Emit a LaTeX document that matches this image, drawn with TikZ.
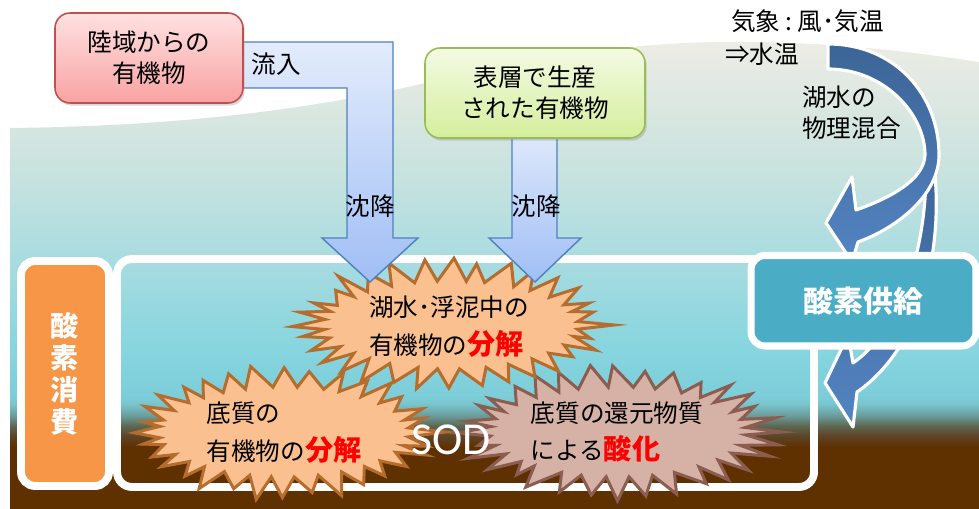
\documentclass[tikz,border=0pt]{standalone}
\usepackage{fontspec}
\setmainfont{Noto Sans CJK JP}
\newfontfamily\sodfont{Carlito}
\usetikzlibrary{shadows}

\definecolor{landtop}{HTML}{FFE1E1}
\definecolor{landbot}{HTML}{F9A2A2}
\definecolor{landline}{HTML}{C0504D}
\definecolor{surftop}{HTML}{F3FAE4}
\definecolor{surfbot}{HTML}{D5EF9C}
\definecolor{surfline}{HTML}{9BBB59}
\definecolor{flowtop}{HTML}{E3ECFC}
\definecolor{flowbot}{HTML}{A0BEF5}
\definecolor{flowline}{HTML}{4F81BD}
\definecolor{mixdark}{HTML}{3C6496}
\definecolor{mixlight}{HTML}{5384C2}
\definecolor{burstfill}{HTML}{FAC090}
\definecolor{burstline}{HTML}{B46D2D}
\definecolor{redoxfill}{HTML}{D6B2A6}
\definecolor{redoxline}{HTML}{8A5D50}
\definecolor{consume}{HTML}{F79646}
\definecolor{supply}{HTML}{4BACC6}
\definecolor{hotred}{HTML}{FF0000}
% lake colours, top to bottom
\definecolor{lk0}{HTML}{EDEDE5}
\definecolor{lk1}{HTML}{D7E6E0}
\definecolor{lk2}{HTML}{C6E2DF}
\definecolor{lk3}{HTML}{A8DCE0}
\definecolor{lk4}{HTML}{86D5DF}
\definecolor{lk5}{HTML}{7DCEDA}
\definecolor{lk6}{HTML}{79C5CE}
\definecolor{lk7}{HTML}{6A9A98}
\definecolor{lk8}{HTML}{5E6650}
\definecolor{lk9}{HTML}{5D4428}
\definecolor{mud}{HTML}{5F3000}

\pgfdeclareverticalshading{lake}{100bp}{%
  color(0bp)=(mud); color(25bp)=(mud); color(31.6bp)=(mud);
  color(32.8bp)=(lk9); color(33.85bp)=(lk8); color(34.9bp)=(lk7);
  color(36.2bp)=(lk6); color(37.15bp)=(lk5); color(41.95bp)=(lk4);
  color(51.55bp)=(lk3); color(60.1bp)=(lk2); color(66.5bp)=(lk1);
  color(75bp)=(lk0); color(100bp)=(lk0)}

\newcommand\redword[1]{{\fontsize{16}{21.5}\selectfont\bfseries\color{hotred}#1}}

% spiky blob: centre x, centre y, x radius, y radius, seed, style
\newcommand\burst[6]{%
  \pgfmathsetseed{#5}%
  \xdef\burstpts{(#1+#3,#2)}%
  \foreach \k in {1,...,63}{%
    \pgfmathsetmacro\ba{\k*5.625+4*(rnd-0.5)}%
    \ifodd\k
      \pgfmathsetmacro\bx{#3-36}\pgfmathsetmacro\by{#4-24}%
    \else
      \pgfmathsetmacro\bk{0.87+0.13*rnd}%
      \pgfmathsetmacro\bx{#3*\bk}\pgfmathsetmacro\by{#4*\bk}%
    \fi
    \pgfmathsetmacro\bpx{#1+\bx*cos(\ba)}%
    \pgfmathsetmacro\bpy{#2+\by*sin(\ba)}%
    \xdef\burstpts{\burstpts -- (\bpx,\bpy)}%
  }%
  \edef\burstdo{\noexpand\path[#6] \burstpts -- cycle;}\burstdo
}

\tikzset{
  txt/.style={font=\fontsize{14}{17.5}\selectfont, inner sep=0pt},
  srcbox/.style={txt, align=center, rounded corners=0.3cm, line width=0.9pt,
    drop shadow={opacity=0.3, shadow xshift=1pt, shadow yshift=-1.5pt}},
  flow/.style={top color=flowtop, bottom color=flowbot, draw=flowline, line width=0.8pt},
  mixarrow/.style={top color=mixdark, bottom color=mixlight, draw=white,
    line width=1.8pt, line join=round},
  bursttext/.style={inner sep=0pt, align=left, font=\fontsize{14}{21.5}\selectfont},
  frame/.style={draw=white, line width=4.5pt, rounded corners=0.3cm},
  bigword/.style={text=white, align=center, font=\fontsize{17}{18.5}\selectfont\bfseries}
}

\begin{document}
\begin{tikzpicture}[x=0.02cm, y=-0.02cm]
\useasboundingbox (0,0) rectangle (979,509);

% lake with the bottom mud
\begin{scope}
  \clip (10,128) .. controls (200,126) and (330,105) .. (430,82)
        .. controls (530,60) and (620,43) .. (720,42)
        .. controls (820,41) and (900,50) .. (979,62)
        -- (979,509) -- (10,509) -- cycle;
  \shade[shading=lake] (10,40) rectangle (979,509);
\end{scope}

% mixing arrows
\path[mixarrow] (933,158) .. controls (945,240) and (925,345) .. (857,392)
  -- (853,427) -- (825,383) -- (848,335) -- (853,363)
  .. controls (900,330) and (928,250) .. (926,160) -- cycle;
\path[mixarrow] (828,44) .. controls (895,44) and (939,95) .. (939,155)
  .. controls (939,195) and (897,228) .. (858,242)
  -- (852,262) -- (826,223) -- (852,177) -- (856,210)
  .. controls (890,198) and (924,180) .. (925,155)
  .. controls (925,114) and (884,69) .. (828,69) -- cycle;

% lake water and bottom
\draw[frame] (117,259) rectangle (814,487);
\node[frame, fill=consume, minimum width=1.76cm, minimum height=4.5cm,
  rounded corners=0.28cm, drop shadow={opacity=0.25, shadow xshift=1pt, shadow yshift=-1.5pt}]
  (use) at (65,373.5) {};
\node[bigword, font=\fontsize{16}{18.2}\selectfont\bfseries] at (use) {酸\\素\\消\\費};

% decomposition and oxidation
\burst{618}{432}{164}{69}{23}{fill=redoxfill, draw=redoxline, line width=1.7pt}
\burst{284}{432}{161}{69}{11}{fill=burstfill, draw=burstline, line width=1.7pt}
\burst{451}{325}{163}{68}{5}{fill=burstfill, draw=burstline, line width=1.7pt}
\node[bursttext] (redox) at (617,432) {底質の還元物質\\による\redword{酸化}};
\node[bursttext] (sed) at (284,433) {底質の\\有機物の\redword{分解}};
\node[bursttext] (water) at (449,327) {湖水･浮泥中の\\有機物の\redword{分解}};
\node[text=white, font=\sodfont\fontsize{26}{26}\selectfont, inner sep=0pt] (sod) at (451,440) {SOD};

% inflow and sinking
\path[flow] (230,42) -- (393,42) -- (393,238) -- (418,238) -- (370,282)
  -- (322,238) -- (347,238) -- (347,88) -- (230,88) -- cycle;
\path[flow] (512,120) -- (557,120) -- (557,238) -- (581,238) -- (535,282)
  -- (489,238) -- (512,238) -- cycle;

\node[srcbox, draw=landline, top color=landtop, bottom color=landbot,
  minimum width=3.76cm, minimum height=1.8cm] (land) at (149,58) {陸域からの\\有機物};
\node[srcbox, draw=surfline, top color=surftop, bottom color=surfbot,
  minimum width=4.4cm, minimum height=1.8cm] (surf) at (535,93) {表層で生産\\された有機物};

\node[txt] (inflow) at (276,64) {流入};
\node[txt] (sink1) at (370,206) {沈降};
\node[txt] (sink2) at (536,206) {沈降};

\node[txt, anchor=west] (met) at (731,21) {気象\hspace{3pt}:\hspace{3pt}風･気温};
\node[txt, anchor=west] (wtemp) at (725,54) {⇒水温};
\node[txt, anchor=north west, align=left] (mix) at (802,86) {湖水の\\物理混合};

% oxygen supply
\node[frame, line width=4pt, fill=supply, minimum width=4.5cm, minimum height=1.81cm,
  rounded corners=0.28cm, drop shadow={opacity=0.25, shadow xshift=1pt, shadow yshift=-1.5pt}]
  (give) at (863.5,300.75) {};
\node[bigword] at (give) {酸素供給};
\end{tikzpicture}
\end{document}
